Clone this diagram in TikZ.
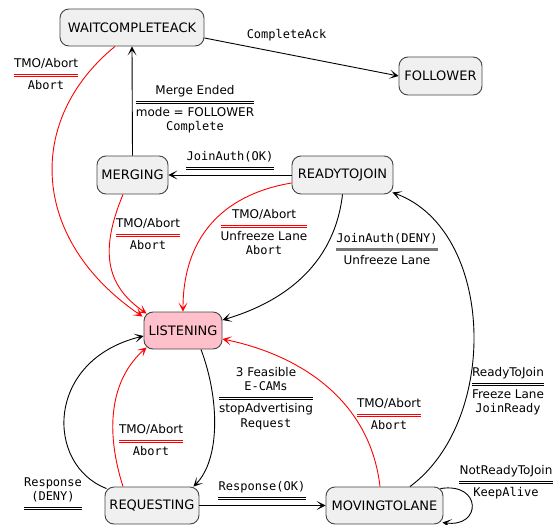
\documentclass[tikz,border=0pt]{standalone}
\usepackage{fontspec}
\setmainfont{DejaVu Sans}
\setmonofont{DejaVu Sans Mono}
\usetikzlibrary{arrows.meta,calc}
\definecolor{stfill}{HTML}{F0F0F0}
\definecolor{stline}{HTML}{444444}
\definecolor{pinkfill}{HTML}{FFC0CB}
\definecolor{redline}{HTML}{FF0000}
\definecolor{barcol}{HTML}{777777}
\newsavebox\lbtop
\newsavebox\lbbot
\newlength\lbw
% label text: top lines, room for the rule, bottom lines
\newcommand{\trlab}[2]{%
  \sbox\lbtop{\begin{tabular}[t]{@{}c@{}}#1\end{tabular}}%
  \sbox\lbbot{\begin{tabular}[t]{@{}c@{}}#2\end{tabular}}%
  \setlength\lbw{\wd\lbtop}%
  \ifdim\wd\lbbot>\lbw\setlength\lbw{\wd\lbbot}\fi
  \vtop{\offinterlineskip
    \hbox to\lbw{\hss\usebox\lbtop\hss}%
    \kern2pt
    \hbox{\vrule height3pt depth0pt width0pt}%
    \kern2.7pt
    \hbox to\lbw{\hss\usebox\lbbot\hss}}}
% double rule under the top lines of a label node (#2 = number of top lines)
\newcommand{\labrules}[3]{%
  \pgfmathsetmacro\ry{6.32+14.4*(#2-1)}%
  \draw[draw=#3, line width=1pt]
    ($(#1.base west)+(0,\ry+0.78)$) -- ($(#1.base east)+(0,\ry+0.78)$)
    ($(#1.base west)+(0,\ry+2.78)$) -- ($(#1.base east)+(0,\ry+2.78)$);}
\begin{document}
\begin{tikzpicture}[x=1pt,y=-1pt,
  state/.style={draw=stline, fill=stfill, line width=0.9pt, rounded corners=9pt,
    minimum height=37pt, inner sep=0pt, font=\fontsize{13}{15}\selectfont},
  lbl/.style={inner sep=0pt, anchor=base, font=\fontsize{12}{14.4}\selectfont},
  tr/.style={line width=0.9pt, -{Stealth[length=9pt,width=9pt,inset=5pt]}},
  abort/.style={tr, draw=redline}]
\useasboundingbox (0,0) rectangle (555,525);

% states
\node[state, minimum width=144pt] (wait) at (132,27.5) {WAITCOMPLETEACK};
\node[state, minimum width=83pt, minimum height=38pt] (follower) at (440.5,76) {FOLLOWER};
\node[state, minimum width=71pt, minimum height=38pt] (merging) at (132.5,175) {MERGING};
\node[state, minimum width=101pt, minimum height=38pt] (ready) at (342.5,175) {READYTOJOIN};
\node[state, fill=pinkfill, minimum width=78pt] (listening) at (183,330.5) {LISTENING};
\node[state, minimum width=94pt] (requesting) at (152,505.5) {REQUESTING};
\node[state, minimum width=117pt] (moving) at (384.5,505.5) {MOVINGTOLANE};

% labels
\node[inner sep=0pt, font=\fontsize{12}{14.4}\selectfont\ttfamily] (lca) at (286.5,35) {CompleteAck};
\node[lbl] (lwl) at (46,67.4) {\trlab{TMO/Abort}{\texttt{Abort}}};
\node[lbl] (lme) at (195,94.4) {\trlab{Merge Ended}{mode = FOLLOWER\\\texttt{Complete}}};
\node[lbl] (lok) at (230,160.4) {\trlab{\texttt{JoinAuth(OK)}}{}};
\node[lbl] (lrm) at (148,227.4) {\trlab{TMO/Abort}{\texttt{Abort}}};
\node[lbl] (lrl) at (264,218.4) {\trlab{TMO/Abort}{Unfreeze Lane\\\texttt{Abort}}};
\node[lbl] (ldeny) at (387,242.1) {\trlab{\texttt{JoinAuth(DENY)}}{Unfreeze Lane}};
\node[lbl] (lfeas) at (266,376.4) {\trlab{3 Feasible\\\texttt{E-CAMs}}{stopAdvertising\\\texttt{Request}}};
\node[lbl] (lrd) at (53,486.4) {\trlab{\texttt{Response}\\\texttt{(DENY)}}{}};
\node[lbl] (lrq) at (151,433.4) {\trlab{TMO/Abort}{\texttt{Abort}}};
\node[lbl] (lrok) at (262,490.4) {\trlab{\texttt{Response(OK)}}{}};
\node[lbl] (lml) at (389,407.4) {\trlab{TMO/Abort}{\texttt{Abort}}};
\node[lbl] (lrtj) at (508,376.4) {\trlab{ReadyToJoin}{Freeze Lane\\\texttt{JoinReady}}};
\node[lbl] (lnr) at (506,474.4) {\trlab{NotReadyToJoin}{\texttt{KeepAlive}}};

% label rules
\labrules{lwl}{1}{redline}
\labrules{lme}{1}{black}
\labrules{lok}{1}{black}
\labrules{lrm}{1}{redline}
\labrules{lrl}{1}{redline}
\draw[draw=barcol, line width=3pt]
  ($(ldeny.base west)+(0,7.82)$) -- ($(ldeny.base east)+(0,7.82)$);
\labrules{lfeas}{2}{black}
\labrules{lrd}{2}{black}
\labrules{lrq}{1}{redline}
\labrules{lrok}{1}{black}
\labrules{lml}{1}{redline}
\labrules{lrtj}{1}{black}
\labrules{lnr}{1}{black}

% transitions
\draw[tr] ([yshift=-10.5pt]wait.east) -- (follower.west);
\draw[tr] (merging.north) -- (wait.south);
\draw[tr] (ready.west) -- (merging.east);
\draw[tr] (ready.south) .. controls (335,260) and (290,300) .. ([yshift=10.5pt]listening.east);
\draw[abort] ([yshift=-8pt]ready.west) .. controls (220,195) and (183,240) .. (listening.north);
\draw[abort] ([xshift=-9.5pt]merging.south) .. controls (100,250) and (105,285) .. ($(listening.north west)+(3,2)$);
\draw[abort] ([xshift=-17pt]wait.south) .. controls (25,120) and (30,240) .. ($(listening.north west)+(-1,5)$);
\draw[tr] ([xshift=18pt]listening.south) .. controls (220,400) and (220,460) .. ([xshift=-6pt]requesting.north east);
\draw[tr] ($(requesting.north west)+(2,2)$) .. controls (45,465) and (45,360) .. ([yshift=-5.5pt]listening.west);
\draw[abort] ([xshift=-29pt]requesting.north) .. controls (105,430) and (110,380) .. ($(listening.south west)+(3,-2)$);
\draw[tr] (requesting.east) -- (moving.west);
\draw[abort] ([xshift=-4.5pt]moving.north) .. controls (370,400) and (300,355) .. ([yshift=-8.5pt]listening.east);
\draw[tr] ([xshift=25.5pt]moving.north) .. controls (500,420) and (495,230) .. ($(ready.south east)+(-1,-2)$);
\draw[tr] ($(moving.north east)+(-3,2)$) .. controls (482,482) and (482,528) .. ($(moving.south east)+(-1,-2)$);
\end{tikzpicture}
\end{document}
